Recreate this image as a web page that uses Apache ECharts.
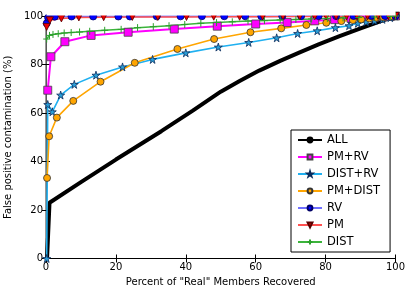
<!DOCTYPE html>
<html>
<head>
<meta charset="utf-8">
<script src="https://cdn.jsdelivr.net/npm/echarts@6/dist/echarts.min.js"></script>
<style>
html,body{margin:0;padding:0;background:#fff;}
#c{width:415px;height:297px;}
</style>
</head>
<body>
<div id="c"></div>
<script>
// ---- data ----
const xTicks = [0, 20, 40, 60, 80, 100];
const yTicks = [0, 20, 40, 60, 80, 100];
const seriesNames = ["ALL", "PM+RV", "DIST+RV", "PM+DIST", "RV", "PM", "DIST"];
const allData = [[0.3,0],[0.5,0],[1,23],[10,31.5],[20,40.8],[33,52.5],[42,61],[50,68.8],[55.4,73.2],[61,77.5],[67,81.5],[72.6,85],[78,88.3],[84,91.7],[90,94.9],[95.4,97.7],[100,100]];
const pmRvData = [[0.5,69.4],[1.4,83.2],[5.4,89.4],[12.9,92],[23.5,93.3],[36.7,94.6],[49,95.8],[60,96.7],[69,97.3],[76.9,98],[82.6,98.5],[87.3,99],[91,99.3],[94,99.5],[96.5,99.7],[98.5,99.8],[100,100]];
const distRvData = [[0.2,0],[0.5,63.5],[1.8,60.5],[4.2,67.4],[8.1,71.8],[14.3,75.6],[21.9,79],[30.5,82.1],[40,84.8],[49.3,87.2],[58,89.1],[66,91],[72,92.8],[77.6,93.9],[82.8,95.2],[86.7,96],[89.2,97],[91.6,97.6],[94,98],[96.3,98.6],[98.5,99.3],[100,100]];
const pmDistData = [[0.3,33.2],[0.9,50.4],[3.1,58.1],[7.8,65],[15.6,72.9],[25.4,80.7],[37.6,86.4],[48.1,90.5],[58.5,93.3],[67.3,94.9],[74.5,96.3],[80.2,97.2],[84.5,97.9],[87.8,98.3],[90.2,98.6],[92.5,99],[94.5,99.3],[96.5,99.5],[98.5,99.8],[100,100]];
const rvData = [[0.2,97],[0.6,99.3],[2.5,99.7],[7.3,99.8],[13.5,99.8],[20.7,99.8],[24,99.8],[31.7,99.85],[38.5,99.85],[44.6,99.9],[51,99.9],[57,99.9],[61.6,99.9],[67.6,99.9],[73,99.95],[78,99.95],[83,99.95],[88,100],[93,100],[97,100],[100,100]];
const pmData = [[0.2,95.5],[1.1,98.2],[4.4,99],[9.4,99.4],[16.5,99.5],[24.7,99.6],[32,99.6],[40.2,99.6],[48,99.7],[55.4,99.7],[62,99.7],[67.8,99.8],[72.6,99.8],[76.9,99.8],[80.2,99.8],[83,99.8],[86,99.9],[89,99.9],[92,99.9],[95,100],[98,100],[100,100]];
const distData = [[0.2,90.5],[1,92],[2,92.4],[3.5,92.7],[5.2,93],[7.2,93.2],[9.6,93.4],[12.5,93.7],[16.8,94.1],[21.5,94.5],[26.2,95.2],[30.7,95.6],[35.2,96],[39.7,96.5],[44.3,97],[48.8,97.3],[53.3,97.6],[57.8,97.9],[62.5,98.1],[67,98.4],[71.5,98.6],[76,98.8],[80.5,99],[85,99.2],[89.5,99.4],[94,99.6],[98.5,99.8],[100,100]];

const FONT = "DejaVu Sans";
const STAR = 'path://M50,0 L61,35 L98,35 L68,57 L79,91 L50,70 L21,91 L32,57 L2,35 L39,35 Z';
const PLUS = 'path://M0,50 L100,50 M50,0 L50,100';

function lineSeries(name, data, color, width, symbol, size, fill, edge, extra) {
  return Object.assign({
    name: name, type: 'line', data: data,
    xAxisIndex: 0, yAxisIndex: 0,
    showSymbol: symbol !== 'none', symbol: symbol, symbolSize: size,
    lineStyle: {color: color, width: width},
    itemStyle: {color: fill, borderColor: edge, borderWidth: 0.8},
    emphasis: {disabled: true}, animation: false, clip: true
  }, extra || {});
}

const chart = echarts.init(document.getElementById('c'), null, {renderer: 'canvas'});
const axisCommon = {
  type: 'value', min: 0, max: 100, interval: 20,
  splitLine: {show: false},
  axisTick: {show: true, inside: true, length: 4, lineStyle: {color: '#000', width: 1}},
  axisLine: {show: true, lineStyle: {color: '#000', width: 1}},
};
chart.setOption({
  backgroundColor: '#fff',
  animation: false,
  grid: {left: 46, right: 19.5, top: 16, bottom: 38.5, containLabel: false, outerBoundsMode: 'none'},
  xAxis: [
    Object.assign({}, axisCommon, {
      position: 'bottom',
      name: 'Percent of "Real" Members Recovered', nameLocation: 'middle', nameGap: 17,
      nameTextStyle: {fontFamily: FONT, fontSize: 10, color: '#000'},
      axisLabel: {fontFamily: FONT, fontSize: 10, color: '#000', margin: 4,
        formatter: v => xTicks.includes(v) ? String(v) : ''}
    }),
    Object.assign({}, axisCommon, {position: 'top', axisLabel: {show: false}})
  ],
  yAxis: [
    Object.assign({}, axisCommon, {
      position: 'left',
      name: 'False positive contamination (%)', nameLocation: 'middle', nameGap: 26,
      nameTextStyle: {fontFamily: FONT, fontSize: 10, color: '#000'},
      axisLabel: {fontFamily: FONT, fontSize: 10, color: '#000', margin: 3,
        formatter: v => yTicks.includes(v) ? String(v) : ''}
    }),
    Object.assign({}, axisCommon, {position: 'right', axisLabel: {show: false},
      axisLine: {show: true, lineStyle: {color: '#777', width: 1.5}}})
  ],
  legend: {
    orient: 'vertical', left: 291, top: 130,
    backgroundColor: '#fff', borderColor: '#000', borderWidth: 1, borderRadius: 0,
    padding: [4, 10, 4, 6], itemWidth: 24, itemHeight: 6, itemGap: 5,
    textStyle: {fontFamily: FONT, fontSize: 11.5, color: '#000', lineHeight: 12},
    data: seriesNames, selectedMode: false
  },
  graphic: [{
    type: 'rect', z: 100, silent: true,
    shape: {x: 46.5, y: 0, width: 349, height: 15.5},
    style: {fill: '#fff'}
  }],
  series: [
    lineSeries('ALL', allData, '#000', 4, 'none', 0, '#000', '#000'),
    lineSeries('PM+RV', pmRvData, '#ff00ff', 2, 'rect', 8, '#ff00ff', '#444'),
    lineSeries('DIST+RV', distRvData, '#20b0f0', 1.6, STAR, 8, '#2a9fd8', '#0a2a5a'),
    lineSeries('PM+DIST', pmDistData, '#ffa500', 1.6, 'circle', 7, '#ffa500', '#333'),
    lineSeries('RV', rvData, '#7070ff', 2, 'circle', 7, '#0000ff', '#000066'),
    lineSeries('PM', pmData, '#ff5050', 1.5, 'triangle', 7, '#ee0000', '#550000', {symbolRotate: 180}),
    lineSeries('DIST', distData, '#3cb43c', 1.5, PLUS, 7, 'none', '#2ca02c', {itemStyle: {color: '#3cb43c', borderColor: '#2ca02c', borderWidth: 1}})
  ]
});
</script>
</body>
</html>
